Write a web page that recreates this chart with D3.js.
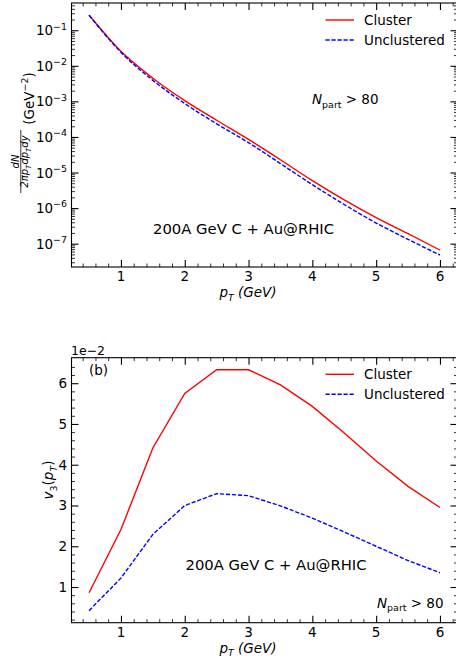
<!DOCTYPE html>
<html>
<head>
<meta charset="utf-8">
<script src="https://cdn.jsdelivr.net/npm/d3@7"></script>
<style>
  body { margin: 0; background: #fff; }
  text { font-family: "DejaVu Sans", sans-serif; fill: #000; }
</style>
</head>
<body>
<svg id="fig" width="456" height="661"></svg>
<script>
// transverse momentum grid (GeV)
const pT = [0.5, 1.0, 1.5, 2.0, 2.5, 3.0, 3.5, 4.0, 4.5, 5.0, 5.5, 6.0];

// dN/(2pi pT dpT dy), GeV^-2
const spectrumCluster = [0.268, 0.0255, 4.47e-3, 1.05e-3, 2.95e-4, 8.5e-5, 2.29e-5, 5.9e-6, 1.7e-6, 5.4e-7, 1.9e-7, 6.6e-8];
const spectrumUnclustered = [0.265, 0.0240, 3.9e-3, 8.7e-4, 2.34e-4, 6.9e-5, 1.78e-5, 4.57e-6, 1.26e-6, 3.8e-7, 1.32e-7, 4.8e-8];

// v3(pT)
const v3Cluster = [0.0086, 0.0241, 0.0441, 0.0575, 0.0633, 0.0633, 0.0596, 0.0543, 0.0478, 0.0409, 0.0347, 0.0295];
const v3Unclustered = [0.0042, 0.0122, 0.0229, 0.0300, 0.0329, 0.0324, 0.0299, 0.0269, 0.0235, 0.0200, 0.0165, 0.0135];

const seriesNames = ["Cluster", "Unclustered"];
const xTicks = [1, 2, 3, 4, 5, 6];
const logTicks = [1e-1, 1e-2, 1e-3, 1e-4, 1e-5, 1e-6, 1e-7];
const v3Ticks = [0.01, 0.02, 0.03, 0.04, 0.05, 0.06];
const systemLabel = "200A GeV C + Au@RHIC";

const svg = d3.select("#fig");
const FS = 13.5;
const left = 71.5, right = 457.5;
const colors = ["#ff0000", "#0000ff"];
const dashes = [null, "4.2,1.8"];

// text with sub/superscripts, parts = [{t, it, sub, sup}]
function richText(parent, x, y, parts, anchor, size) {
  size = size || FS;
  const t = parent.append("text")
    .attr("x", x).attr("y", y)
    .attr("font-size", size)
    .attr("text-anchor", anchor || "start");
  let shift = 0;
  parts.forEach(p => {
    const s = p.sub ? size * 0.26 : p.sup ? -size * 0.42 : 0;
    t.append("tspan")
      .attr("dy", s - shift)
      .attr("font-size", (p.sub || p.sup) ? size * 0.7 : size)
      .attr("font-style", p.it ? "italic" : "normal")
      .text(p.t);
    shift = s;
  });
  return t;
}

const xExt = d3.extent(pT);
const xPad = (xExt[1] - xExt[0]) * 0.05;
const x = d3.scaleLinear().domain([xExt[0] - xPad, xExt[1] + xPad]).range([left, right]);
const xMinor = d3.range(0.4, 6.3, 0.2).filter(v => Math.abs(v - Math.round(v)) > 0.05);

function frameAxes(g, y, top, bottom, yMajor, yMinor) {
  g.append("rect")
    .attr("x", left).attr("y", top)
    .attr("width", right - left).attr("height", bottom - top)
    .attr("fill", "none").attr("stroke", "#000").attr("stroke-width", 1.1);

  const tickStyle = (sel, w) => {
    sel.select(".domain").remove();
    sel.selectAll("line").attr("stroke", "#000").attr("stroke-width", w);
    sel.selectAll("text").remove();
  };
  // x major / minor ticks, bottom and top
  g.append("g").attr("transform", `translate(0,${bottom})`)
    .call(d3.axisBottom(x).tickValues(xTicks).tickSize(-7)).call(tickStyle, 1.1);
  g.append("g").attr("transform", `translate(0,${bottom})`)
    .call(d3.axisBottom(x).tickValues(xMinor).tickSize(-3.5)).call(tickStyle, 0.8);
  g.append("g").attr("transform", `translate(0,${top})`)
    .call(d3.axisTop(x).tickValues(xTicks).tickSize(-7)).call(tickStyle, 1.1);
  g.append("g").attr("transform", `translate(0,${top})`)
    .call(d3.axisTop(x).tickValues(xMinor).tickSize(-3.5)).call(tickStyle, 0.8);
  // y major / minor ticks, left and right
  g.append("g").attr("transform", `translate(${left},0)`)
    .call(d3.axisLeft(y).tickValues(yMajor).tickSize(-7)).call(tickStyle, 1.1);
  g.append("g").attr("transform", `translate(${left},0)`)
    .call(d3.axisLeft(y).tickValues(yMinor).tickSize(-3.5)).call(tickStyle, 0.8);
  g.append("g").attr("transform", `translate(${right},0)`)
    .call(d3.axisRight(y).tickValues(yMajor).tickSize(-7)).call(tickStyle, 1.1);
  g.append("g").attr("transform", `translate(${right},0)`)
    .call(d3.axisRight(y).tickValues(yMinor).tickSize(-3.5)).call(tickStyle, 0.8);

  // x tick labels
  g.selectAll(null).data(xTicks).join("text")
    .attr("x", d => x(d)).attr("y", bottom + 14)
    .attr("text-anchor", "middle").attr("font-size", FS)
    .text(d => d);

  // x axis label
  richText(g, 248, bottom + 30,
    [{ t: "p", it: true }, { t: "T", it: true, sub: true }, { t: " (GeV)", it: true }], "middle");
}

function drawSeries(g, y, series, curve) {
  const line = d3.line()
    .x((d, i) => x(pT[i]))
    .y(d => y(d))
    .curve(curve);
  series.forEach((s, k) => {
    g.append("path")
      .datum(s)
      .attr("fill", "none")
      .attr("stroke", colors[k])
      .attr("stroke-width", 1.4)
      .attr("stroke-dasharray", dashes[k])
      .attr("d", line);
  });
}

function legend(g, y0) {
  seriesNames.forEach((name, k) => {
    const yy = y0 + k * 20;
    g.append("line")
      .attr("x1", 325.5).attr("x2", 354).attr("y1", yy).attr("y2", yy)
      .attr("stroke", colors[k]).attr("stroke-width", 1.4)
      .attr("stroke-dasharray", dashes[k]);
    g.append("text")
      .attr("x", 364).attr("y", yy + 5)
      .attr("font-size", FS).text(name);
  });
}

// ---------------- panel (a): spectra ----------------
{
  const top = 3, bottom = 267;
  const g = svg.append("g");
  const all = spectrumCluster.concat(spectrumUnclustered);
  const lo = Math.log10(d3.min(all)), hi = Math.log10(d3.max(all));
  const lp = (hi - lo) * 0.05;
  const y = d3.scaleLog().domain([Math.pow(10, lo - lp), Math.pow(10, hi + lp)]).range([bottom, top]);

  const minor = [];
  for (let e = -8; e <= 0; e++) for (let m = 2; m <= 9; m++) {
    const v = m * Math.pow(10, e);
    if (v > y.domain()[0] && v < y.domain()[1]) minor.push(v);
  }
  frameAxes(g, y, top, bottom, logTicks, minor);

  logTicks.forEach(v => {
    richText(g, 67, y(v) + 5, [{ t: "10" }, { t: "\u2212" + Math.round(-Math.log10(v)), sup: true }], "end");
  });

  drawSeries(g, y, [spectrumCluster, spectrumUnclustered], d3.curveMonotoneX);
  legend(g, 20);

  richText(g, 312, 104, [{ t: "N", it: true }, { t: "part", sub: true }, { t: " > 80" }]);
  g.append("text").attr("x", 153).attr("y", 233.5).attr("font-size", 14.8).text(systemLabel);

  // y label: dN / (2 pi pT dpT dy) (GeV^-2)
  const yl = g.append("g").attr("transform", "rotate(-90)");
  richText(yl, -98.5, 34, [{ t: "(GeV" }, { t: "\u22122", sup: true }, { t: ")" }], "middle");
  richText(yl, -161.5, 18.5, [{ t: "dN", it: true }], "middle", 10);
  yl.append("line").attr("x1", -193).attr("x2", -130).attr("y1", 20.8).attr("y2", 20.8)
    .attr("stroke", "#000").attr("stroke-width", 0.8);
  richText(yl, -161.5, 28, [
    { t: "2\u03c0p", it: true }, { t: "T", it: true, sub: true },
    { t: "dp", it: true }, { t: "T", it: true, sub: true }, { t: "dy", it: true }
  ], "middle", 10);
}

// ---------------- panel (b): v3 ----------------
{
  const top = 357.7, bottom = 622.7;
  const g = svg.append("g");
  const all = v3Cluster.concat(v3Unclustered);
  const lo = d3.min(all), hi = d3.max(all);
  const p = (hi - lo) * 0.05;
  const y = d3.scaleLinear().domain([lo - p, hi + p]).range([bottom, top]);
  const minor = d3.range(0.002, 0.066, 0.002).filter(v => Math.abs(v * 100 - Math.round(v * 100)) > 0.05);

  frameAxes(g, y, top, bottom, v3Ticks, minor);

  g.selectAll(null).data(v3Ticks).join("text")
    .attr("x", 67).attr("y", d => y(d) + 5)
    .attr("text-anchor", "end").attr("font-size", FS)
    .text(d => Math.round(d * 100));
  g.append("text").attr("x", 71).attr("y", 355).attr("font-size", 12.5).text("1e\u22122");

  drawSeries(g, y, [v3Cluster, v3Unclustered], d3.curveLinear);
  legend(g, 374.3);

  g.append("text").attr("x", 89).attr("y", 375).attr("font-size", FS).text("(b)");
  g.append("text").attr("x", 185.5).attr("y", 569.5).attr("font-size", 14.8).text(systemLabel);
  richText(g, 377, 607.5, [{ t: "N", it: true }, { t: "part", sub: true }, { t: " > 80" }]);

  const yl = g.append("g").attr("transform", "rotate(-90)");
  richText(yl, -480, 53, [
    { t: "v", it: true }, { t: "3", sub: true }, { t: "(" },
    { t: "p", it: true }, { t: "T", it: true, sub: true }, { t: ")" }
  ], "middle");
}
</script>
</body>
</html>
